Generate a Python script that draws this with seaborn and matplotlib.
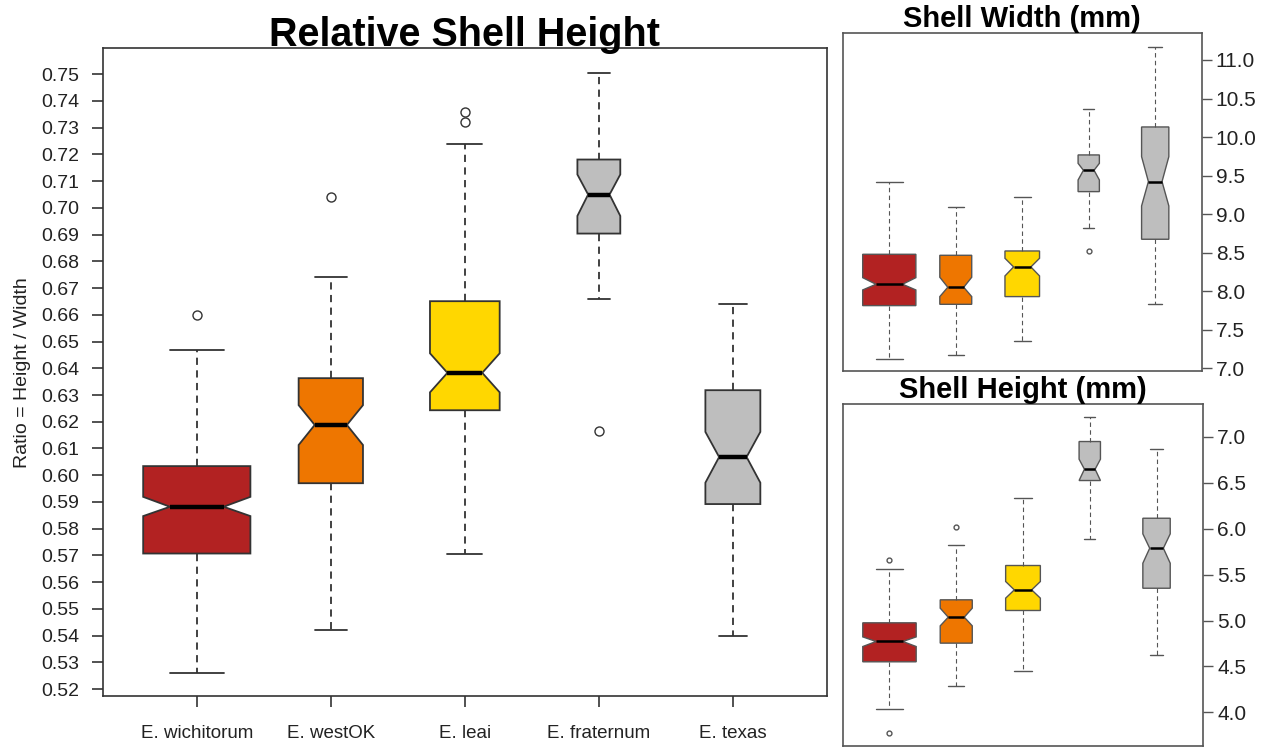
import numpy as np
import matplotlib
matplotlib.use("Agg")
import matplotlib.pyplot as plt
import seaborn as sns

# Groups and fill colours
groups = ["E. wichitorum", "E. westOK", "E. leai", "E. fraternum", "E. texas"]
colors = ["#B22222", "#EE7600", "#FFD700", "#BEBEBE", "#BEBEBE"]
# relative box widths (proportional to sqrt of sample size)
rel_widths = [0.80, 0.48, 0.52, 0.32, 0.41]

# Relative shell height (Height / Width) summary statistics
ratio_whislo = [0.5261, 0.5420, 0.5707, 0.6661, 0.5397]
ratio_q1     = [0.5707, 0.5970, 0.6243, 0.6904, 0.5892]
ratio_cilo   = [0.5847, 0.6113, 0.6310, 0.6970, 0.5972]
ratio_med    = [0.5882, 0.6188, 0.6383, 0.7050, 0.6068]
ratio_cihi   = [0.5919, 0.6262, 0.6456, 0.7125, 0.6162]
ratio_q3     = [0.6034, 0.6363, 0.6651, 0.7181, 0.6318]
ratio_whishi = [0.6470, 0.6740, 0.7239, 0.7504, 0.6642]
ratio_fliers = [[0.6600], [0.7041], [0.7322, 0.7359], [0.6165], []]

# Shell width (mm)
width_whislo = [7.121, 7.173, 7.355, 8.825, 7.839]
width_q1     = [7.813, 7.830, 7.930, 9.292, 8.674]
width_cilo   = [8.016, 7.930, 8.198, 9.443, 9.106]
width_med    = [8.090, 8.051, 8.315, 9.569, 9.422]
width_cihi   = [8.176, 8.181, 8.427, 9.659, 9.746]
width_q3     = [8.479, 8.466, 8.522, 9.768, 10.131]
width_whishi = [9.413, 9.093, 9.227, 10.364, 11.173]
width_fliers = [[], [], [], [8.527], []]

# Shell height (mm)
height_whislo = [4.043, 4.290, 4.453, 5.884, 4.623]
height_q1     = [4.551, 4.754, 5.109, 6.522, 5.351]
height_cilo   = [4.717, 4.942, 5.243, 6.522, 5.623]
height_med    = [4.772, 5.036, 5.333, 6.645, 5.786]
height_cihi   = [4.822, 5.134, 5.424, 6.754, 5.942]
height_q3     = [4.975, 5.225, 5.598, 6.946, 6.112]
height_whishi = [5.562, 5.826, 6.330, 7.210, 6.862]
height_fliers = [[5.656, 3.772], [6.014], [], [], []]

sns.set_theme(style="white")
plt.rcParams["font.family"] = ["Liberation Sans", "DejaVu Sans"]


def make_stats(whislo, q1, cilo, med, cihi, q3, whishi, fliers):
    return [dict(whislo=a, q1=b, cilo=c, med=d, cihi=e, q3=f, whishi=g,
                 fliers=np.array(h), label=lab)
            for a, b, c, d, e, f, g, h, lab in
            zip(whislo, q1, cilo, med, cihi, q3, whishi, fliers, groups)]


def draw_boxes(ax, stats, edge, lw, med_lw, whisk_lw, flier_size):
    pos = np.arange(1, len(groups) + 1)
    res = ax.bxp(stats, positions=pos, widths=rel_widths,
                 shownotches=True, showfliers=True, patch_artist=True,
                 manage_ticks=False,
                 boxprops=dict(edgecolor=edge, linewidth=lw),
                 whiskerprops=dict(color=edge, linewidth=whisk_lw,
                                   linestyle=(0, (4, 3))),
                 capprops=dict(color=edge, linewidth=lw),
                 medianprops=dict(color="black", linewidth=med_lw,
                                  solid_capstyle="butt"),
                 flierprops=dict(marker="o", markerfacecolor="none",
                                 markeredgecolor=edge, markersize=flier_size,
                                 markeredgewidth=1.0, linestyle="none"))
    for patch, c in zip(res["boxes"], colors):
        patch.set_facecolor(c)
    ax.set_xlim(0.3, 5.7)
    for sp in ax.spines.values():
        sp.set_visible(True)
        sp.set_color(edge)
        sp.set_linewidth(1.2)


fig = plt.figure(figsize=(12.65, 7.47), dpi=100)

# Main panel: relative shell height
ax = fig.add_axes([0.0814, 0.0683, 0.5721, 0.8670])
draw_boxes(ax, make_stats(ratio_whislo, ratio_q1, ratio_cilo, ratio_med,
                          ratio_cihi, ratio_q3, ratio_whishi, ratio_fliers),
           edge="#333333", lw=1.3, med_lw=3.2, whisk_lw=1.3, flier_size=6.5)
ax.set_ylim(0.5174, 0.7597)
yt = np.round(np.arange(0.52, 0.7501, 0.01), 2)
ax.set_yticks(yt)
ax.set_yticklabels([f"{v:.2f}" for v in yt], fontsize=14, color="#222222")
ax.set_xticks(np.arange(1, 6))
ax.set_xticklabels(groups, fontsize=13.5, color="#222222")
ax.tick_params(axis="both", direction="out", length=8, width=1.2,
               color="#333333", left=True, bottom=True)
ax.tick_params(axis="y", pad=9)
ax.tick_params(axis="x", pad=13)
ax.set_ylabel("Ratio = Height / Width", fontsize=14, color="#222222")
ax.yaxis.set_label_coords(-0.100, 0.5)
ax.set_title("Relative Shell Height", fontsize=28.5, fontweight="bold",
             color="black", pad=2)

# Right panels
for rect, stats, lims, ticks, title in [
    ([0.6662, 0.5038, 0.2838, 0.4516],
     make_stats(width_whislo, width_q1, width_cilo, width_med, width_cihi,
                width_q3, width_whishi, width_fliers),
     (6.969, 11.346), np.arange(7.0, 11.01, 0.5), "Shell Width (mm)"),
    ([0.6662, 0.0020, 0.2850, 0.4568],
     make_stats(height_whislo, height_q1, height_cilo, height_med,
                height_cihi, height_q3, height_whishi, height_fliers),
     (3.641, 7.351), np.arange(4.0, 7.01, 0.5), "Shell Height (mm)"),
]:
    a = fig.add_axes(rect)
    draw_boxes(a, stats, edge="#555555", lw=1.0, med_lw=1.8, whisk_lw=0.8,
               flier_size=3.5)
    a.set_ylim(*lims)
    a.yaxis.tick_right()
    a.set_yticks(ticks)
    a.set_yticklabels([f"{v:.1f}" for v in ticks], fontsize=15,
                      color="#222222")
    a.set_xticks([])
    a.tick_params(axis="y", direction="out", length=7, width=1.0,
                  color="#555555", right=True, left=False, pad=3)
    a.set_title(title, fontsize=21, fontweight="bold", color="black", pad=1)

fig.savefig("out.png", dpi=100)
